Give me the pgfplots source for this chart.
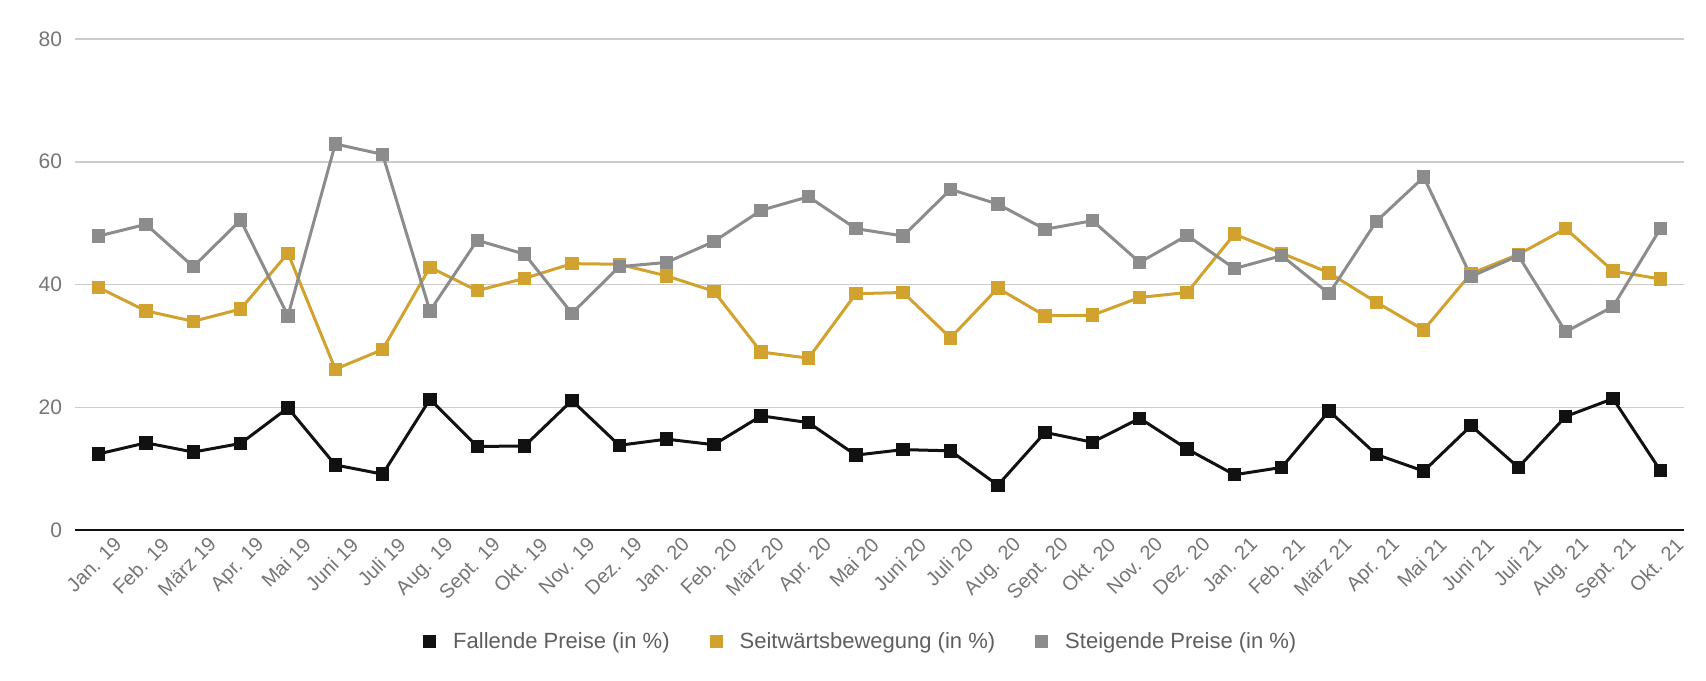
\documentclass[border=0pt]{standalone}
\usepackage{fontspec}
\setmainfont{Liberation Sans}
\usepackage{pgfplots}
\pgfplotsset{compat=1.18}
\definecolor{cblack}{HTML}{111111}
\definecolor{cgold}{HTML}{D1A22E}
\definecolor{cgrey}{HTML}{8C8C8C}
\definecolor{ctick}{HTML}{757575}
\definecolor{cgrid}{HTML}{CCCCCC}
\begin{document}
\begin{tikzpicture}
\path[use as bounding box] (-37.5pt,-75pt) rectangle (815.5pt,265pt);
\begin{axis}[
  scale only axis,
  width=804.5pt, height=245.5pt,
  xmin=-0.5, xmax=33.5, ymin=0, ymax=80,
  axis line style={draw=none},
  ytick={0,20,40,60,80},
  xtick={0,...,33},
  xticklabels={Jan. 19,Feb. 19,März 19,Apr. 19,Mai 19,Juni 19,Juli 19,Aug. 19,Sept. 19,Okt. 19,Nov. 19,Dez. 19,Jan. 20,Feb. 20,März 20,Apr. 20,Mai 20,Juni 20,Juli 20,Aug. 20,Sept. 20,Okt. 20,Nov. 20,Dez. 20,Jan. 21,Feb. 21,März 21,Apr. 21,Mai 21,Juni 21,Juli 21,Aug. 21,Sept. 21,Okt. 21},
  major tick length=0pt,
  ymajorgrids,
  grid style={cgrid, line width=0.75pt},
  /pgf/number format/assume math mode=true,
  tick label style={font=\fontsize{10.5}{12}\selectfont, text=ctick},
  yticklabel style={xshift=-3pt},
  xticklabel style={rotate=45, anchor=north east, inner sep=1pt, xshift=4pt, yshift=-6pt, font=\fontsize{10}{12}\selectfont},
  legend columns=-1,
  legend style={draw=none, at={(0.489,-0.228)}, anchor=center,
    font=\fontsize{11}{13}\selectfont, text=ctick!80!black,
    /tikz/every even column/.append style={column sep=18pt}},
  legend image code/.code={\fill[draw=none] (-1pt,-3.25pt) rectangle (5.5pt,3.25pt); \path[draw=none] (-1pt,0) -- (12pt,0);},
  every axis plot/.append style={line width=1.5pt, mark=square*, mark size=2.6pt},
]
\draw[cblack, line width=1pt] (axis cs:-0.5,0) -- (axis cs:33.5,0);
\addplot[cblack, mark options={fill=cblack}] coordinates {
(0,12.4)(1,14.2)(2,12.7)(3,14.1)(4,19.9)(5,10.6)(6,9.1)(7,21.3)(8,13.6)(9,13.7)
(10,21.1)(11,13.8)(12,14.8)(13,13.9)(14,18.6)(15,17.5)(16,12.2)(17,13.1)(18,12.9)(19,7.3)
(20,15.9)(21,14.3)(22,18.2)(23,13.2)(24,9.0)(25,10.2)(26,19.4)(27,12.3)(28,9.6)(29,17.0)
(30,10.2)(31,18.5)(32,21.4)(33,9.7)};
\addlegendentry{Fallende Preise (in \%)}
\addplot[cgold, mark options={fill=cgold}] coordinates {
(0,39.5)(1,35.7)(2,34.0)(3,36.0)(4,45.1)(5,26.2)(6,29.4)(7,42.8)(8,39.0)(9,41.0)
(10,43.4)(11,43.3)(12,41.4)(13,38.9)(14,29.0)(15,28.0)(16,38.5)(17,38.7)(18,31.3)(19,39.4)
(20,34.9)(21,35.0)(22,37.9)(23,38.7)(24,48.2)(25,45.1)(26,41.9)(27,37.1)(28,32.6)(29,41.8)
(30,44.9)(31,49.1)(32,42.2)(33,40.9)};
\addlegendentry{Seitwärtsbewegung (in \%)}
\addplot[cgrey, mark options={fill=cgrey}] coordinates {
(0,47.9)(1,49.8)(2,42.9)(3,50.5)(4,34.9)(5,62.9)(6,61.2)(7,35.7)(8,47.2)(9,44.95)
(10,35.3)(11,42.9)(12,43.6)(13,47.0)(14,52.1)(15,54.3)(16,49.1)(17,47.9)(18,55.5)(19,53.1)
(20,49.0)(21,50.4)(22,43.6)(23,48.0)(24,42.6)(25,44.7)(26,38.5)(27,50.3)(28,57.5)(29,41.3)
(30,44.7)(31,32.3)(32,36.4)(33,49.1)};
\addlegendentry{Steigende Preise (in \%)}
\end{axis}
\end{tikzpicture}
\end{document}
